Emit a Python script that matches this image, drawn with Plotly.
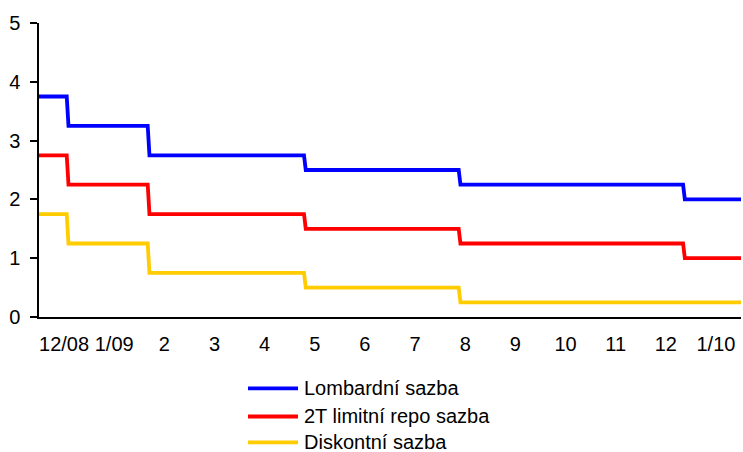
import plotly.graph_objects as go

# Month categories (x axis), positions in month units: category i spans [i, i+1]
month_labels = ["12/08", "1/09", "2", "3", "4", "5", "6", "7", "8", "9", "10", "11", "12", "1/10"]

series_names = ["Lombardní sazba", "2T limitní repo sazba", "Diskontní sazba"]
series_colors = ["#0000FF", "#FF0000", "#FFCC00"]

# Rate changes (position in month units)
change_pos = [0.553, 2.168, 5.285, 8.37, 12.845]
ramp = 0.035

lombard = [3.75, 3.25, 2.75, 2.5, 2.25, 2.0]
repo = [2.75, 2.25, 1.75, 1.5, 1.25, 1.0]
discount = [1.75, 1.25, 0.75, 0.5, 0.25, 0.25]

x_start, x_end = 0.0, 14.0


def step_series(levels):
    xs, ys = [x_start], [levels[0]]
    for i, p in enumerate(change_pos):
        xs += [p, p + ramp]
        ys += [levels[i], levels[i + 1]]
    xs.append(x_end)
    ys.append(levels[-1])
    return xs, ys


fig = go.Figure()
for name, color, levels in zip(series_names, series_colors, [lombard, repo, discount]):
    xs, ys = step_series(levels)
    fig.add_trace(go.Scatter(x=xs, y=ys, mode="lines", name=name,
                             line=dict(color=color, width=3.8), showlegend=False))

font = dict(family="Liberation Sans, Arial, sans-serif", size=20, color="#000000")

fig.update_layout(
    width=743, height=452,
    margin=dict(l=39, r=2, t=23, b=135),
    paper_bgcolor="white", plot_bgcolor="white",
    font=font,
    xaxis=dict(range=[x_start, x_end], showline=True, linecolor="#000000", linewidth=1.5,
               ticks="", tickmode="array",
               tickvals=[i + 0.5 for i in range(len(month_labels))],
               ticktext=month_labels, showgrid=False, zeroline=False,
               ticklabelstandoff=8, tickfont=font),
    yaxis=dict(range=[0, 5], dtick=1, showline=True, linecolor="#000000", linewidth=1.5,
               ticks="outside", ticklen=7, tickwidth=1.5, tickcolor="#000000",
               showgrid=False, zeroline=False, tickfont=font, ticklabelstandoff=6),
)

# Legend drawn below the chart
plot_left, plot_w = 39, 702
plot_bottom, plot_h = 452 - 135, 452 - 135 - 23
leg_y = [388.3, 416.5, 442.3]
for name, color, py in zip(series_names, series_colors, leg_y):
    yp = (plot_bottom - py) / plot_h
    fig.add_shape(type="line", xref="paper", yref="paper",
                  x0=(248 - plot_left) / plot_w, x1=(298 - plot_left) / plot_w,
                  y0=yp, y1=yp, line=dict(color=color, width=3.8))
    fig.add_annotation(xref="paper", yref="paper", x=(302 - plot_left) / plot_w, y=yp,
                       text=name, showarrow=False, xanchor="left", yanchor="middle",
                       font=font)

fig.write_html("out.html")
